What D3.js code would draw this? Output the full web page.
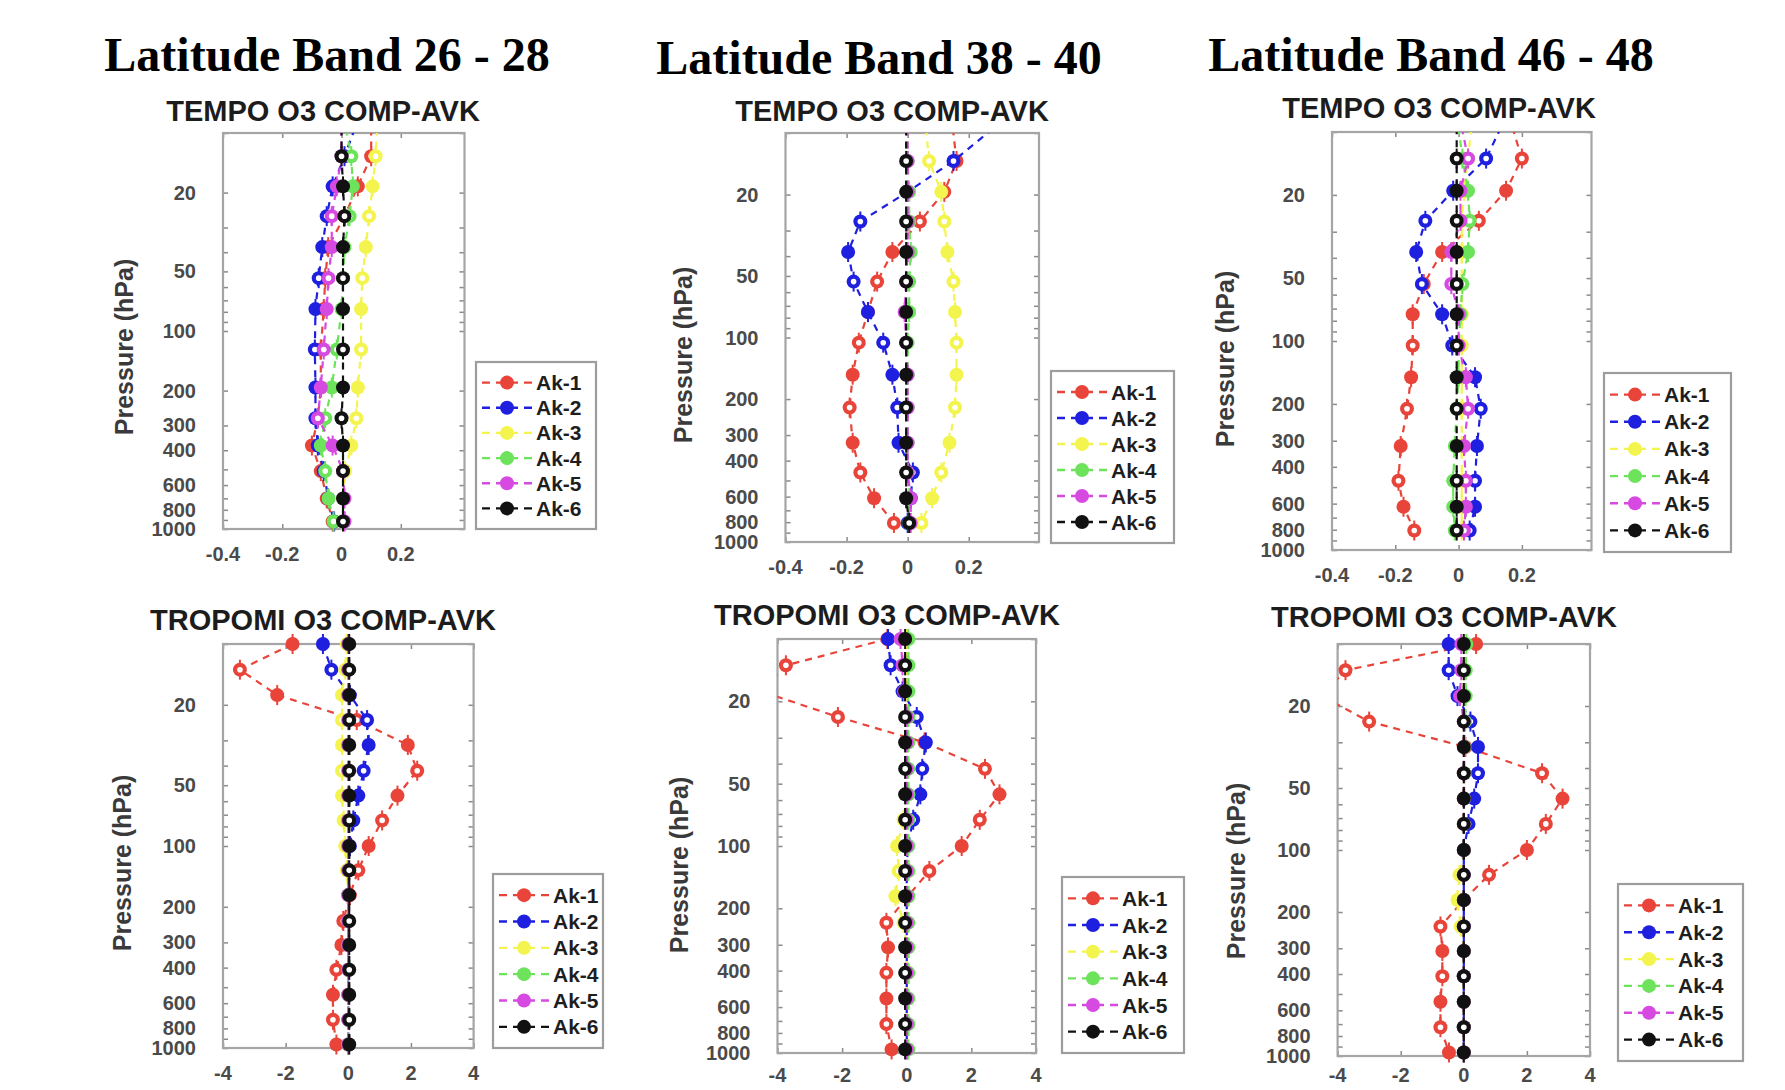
<!DOCTYPE html>
<html>
<head>
<meta charset="utf-8">
<script src="https://cdn.jsdelivr.net/npm/d3@7"></script>
<style>
  body { margin: 0; background: #fff; }
  svg { display: block; }
</style>
</head>
<body>
<svg id="chart"></svg>
<script>
// ---- data ----
var bandTitles = ["Latitude Band 26 - 28", "Latitude Band 38 - 40", "Latitude Band 46 - 48"]
var tempoTitle = "TEMPO O3 COMP-AVK"
var tropomiTitle = "TROPOMI O3 COMP-AVK"
var seriesNames = ["Ak-1", "Ak-2", "Ak-3", "Ak-4", "Ak-5", "Ak-6"]
var pressureTicks = [20, 50, 100, 200, 300, 400, 600, 800, 1000]
var tempoTicksX = [-0.4, -0.2, 0, 0.2]
var tropomiTicksX = [-4, -2, 0, 2, 4]

// pressure levels (hPa)
var tempoP26 = [9.5, 13.1, 18.6, 26.3, 37.7, 54.1, 77.5, 124, 193, 276, 379, 510, 701, 916]
var tempoP38 = [9.5, 13.7, 19.4, 27.1, 38.2, 53.3, 75.1, 106, 152, 220, 327, 457, 611, 807]
var tempoP46 = [9.5, 13.4, 19.1, 26.6, 37.5, 53.4, 74.5, 105, 149, 211, 318, 466, 621, 807]
var tropomiP = [10, 13.4, 17.9, 23.8, 31.6, 42.4, 56.3, 74.7, 100, 132, 175, 235, 309, 410, 545, 725, 961]

// averaging kernel rows, Ak-1 .. Ak-6
var tempo26 = [
  [0.10, 0.10, 0.055, 0.01, -0.045, -0.055, -0.06, -0.07, -0.07, -0.08, -0.10, -0.07, -0.05, -0.03],
  [0.045, 0.01, -0.03, -0.05, -0.065, -0.077, -0.088, -0.09, -0.088, -0.088, -0.08, -0.06, -0.045, -0.025],
  [0.12, 0.115, 0.105, 0.093, 0.082, 0.07, 0.066, 0.066, 0.055, 0.05, 0.033, 0.012, 0.006, 0.003],
  [0.015, 0.033, 0.038, 0.027, 0.01, 0.005, 0.0, -0.016, -0.033, -0.055, -0.07, -0.055, -0.044, -0.027],
  [0.0, 0.0, -0.016, -0.033, -0.033, -0.044, -0.05, -0.06, -0.07, -0.08, -0.03, 0.005, 0.01, 0.01],
  [0.0, 0.0, 0.005, 0.01, 0.005, 0.005, 0.005, 0.005, 0.005, 0.0, 0.005, 0.005, 0.005, 0.005]
]
var tempo38 = [
  [0.148, 0.16, 0.12, 0.04, -0.05, -0.10, -0.13, -0.16, -0.18, -0.19, -0.18, -0.155, -0.11, -0.045],
  [0.28, 0.15, 0.0, -0.155, -0.195, -0.177, -0.13, -0.08, -0.05, -0.034, -0.03, 0.017, 0.01, 0.0],
  [0.06, 0.07, 0.11, 0.12, 0.13, 0.15, 0.155, 0.16, 0.16, 0.155, 0.137, 0.11, 0.08, 0.045],
  [0.0, 0.0, 0.005, 0.005, 0.01, 0.005, 0.005, 0.0, 0.0, 0.0, 0.0, 0.0, 0.005, 0.005],
  [0.0, 0.0, 0.0, 0.0, 0.0, -0.005, -0.01, -0.005, 0.0, 0.0, 0.0, 0.0, 0.01, 0.01],
  [-0.005, -0.005, -0.005, -0.005, -0.005, -0.005, -0.005, -0.005, -0.005, -0.005, -0.005, -0.005, -0.005, 0.005]
]
var tempo46 = [
  [0.17, 0.2, 0.15, 0.064, -0.052, -0.11, -0.145, -0.145, -0.15, -0.163, -0.183, -0.19, -0.174, -0.14],
  [0.134, 0.087, -0.017, -0.105, -0.134, -0.116, -0.052, -0.02, 0.052, 0.07, 0.058, 0.052, 0.052, 0.035],
  [0.04, 0.03, 0.017, 0.01, 0.01, 0.01, 0.01, 0.01, 0.01, 0.01, 0.01, 0.01, 0.01, 0.01],
  [0.0, 0.012, 0.03, 0.035, 0.03, 0.012, 0.006, 0.0, 0.0, -0.006, -0.012, -0.017, -0.017, -0.012],
  [0.01, 0.03, 0.006, 0.006, -0.023, -0.023, 0.0, 0.0, 0.023, 0.03, 0.017, 0.023, 0.023, 0.017],
  [-0.006, -0.006, -0.006, -0.006, -0.006, -0.006, -0.006, -0.006, -0.006, -0.006, -0.006, -0.006, -0.006, -0.006]
]
var tropomi26 = [
  [-1.78, -3.46, -2.27, 0.27, 1.9, 2.2, 1.57, 1.08, 0.65, 0.32, 0.05, -0.16, -0.22, -0.38, -0.49, -0.49, -0.38],
  [-0.81, -0.54, 0.05, 0.6, 0.65, 0.49, 0.32, 0.16, 0.05, 0.0, 0.0, 0.0, 0.0, 0.0, 0.0, 0.0, 0.0],
  [-0.05, -0.1, -0.2, -0.2, -0.2, -0.2, -0.2, -0.15, -0.1, -0.05, 0.0, 0.0, 0.0, 0.0, 0.0, 0.0, 0.0],
  [0.0, 0.0, 0.0, 0.0, 0.0, 0.0, 0.0, 0.0, 0.0, 0.0, 0.0, 0.0, 0.0, 0.0, 0.0, 0.0, 0.0],
  [0.0, 0.0, 0.0, 0.0, 0.0, 0.0, 0.0, 0.0, 0.0, 0.0, 0.0, 0.0, 0.0, 0.0, 0.0, 0.0, 0.0],
  [0.03, 0.03, 0.03, 0.03, 0.03, 0.03, 0.03, 0.03, 0.03, 0.03, 0.03, 0.03, 0.03, 0.03, 0.03, 0.03, 0.03]
]
var tropomi38 = [
  [-0.6, -3.74, -4.5, -2.13, 0.55, 2.42, 2.87, 2.26, 1.7, 0.7, 0.03, -0.63, -0.58, -0.63, -0.63, -0.63, -0.47],
  [-0.58, -0.5, -0.13, 0.31, 0.59, 0.48, 0.42, 0.2, 0.03, 0.0, 0.0, 0.0, 0.0, 0.0, 0.0, 0.0, 0.0],
  [0.0, 0.0, 0.0, 0.0, 0.0, 0.0, 0.0, -0.1, -0.3, -0.25, -0.35, -0.1, 0.0, 0.0, 0.0, 0.0, 0.0],
  [0.05, 0.05, 0.05, 0.05, 0.05, 0.05, 0.05, 0.05, 0.05, 0.05, 0.05, 0.05, 0.05, 0.05, 0.05, 0.05, 0.05],
  [-0.19, -0.13, -0.08, 0.0, 0.0, 0.0, 0.0, 0.0, 0.0, 0.0, 0.0, 0.0, 0.0, 0.0, 0.0, 0.0, 0.0],
  [-0.05, -0.05, -0.05, -0.05, -0.05, -0.05, -0.05, -0.05, -0.05, -0.05, -0.05, -0.05, -0.05, -0.05, -0.05, -0.05, -0.05]
]
var tropomi46 = [
  [0.39, -3.75, -4.5, -3.0, 0.05, 2.48, 3.13, 2.6, 2.0, 0.8, 0.0, -0.74, -0.68, -0.68, -0.74, -0.74, -0.47],
  [-0.48, -0.48, -0.2, 0.21, 0.45, 0.45, 0.33, 0.15, 0.0, 0.0, 0.0, 0.0, 0.0, 0.0, 0.0, 0.0, 0.0],
  [0.0, 0.0, 0.0, 0.0, 0.0, 0.0, 0.0, 0.0, 0.0, -0.14, -0.2, -0.1, 0.0, 0.0, 0.0, 0.0, 0.0],
  [0.08, 0.06, 0.06, 0.04, 0.02, 0.02, 0.01, 0.0, 0.0, 0.0, 0.0, 0.0, 0.0, 0.0, 0.0, 0.0, 0.0],
  [-0.08, -0.08, -0.12, 0.0, 0.0, 0.0, 0.0, 0.0, 0.0, 0.0, 0.0, 0.0, 0.0, 0.0, 0.0, 0.0, 0.0],
  [0.0, 0.0, 0.0, 0.0, 0.0, 0.0, 0.0, 0.0, 0.0, 0.0, 0.0, 0.0, 0.0, 0.0, 0.0, 0.0, 0.0]
]

var colors = ["#e8443a", "#1f1fe0", "#f4f44e", "#6de35c", "#d64ae2", "#111111"]

var svg = d3.select("#chart")
  .attr("width", 1785)
  .attr("height", 1090)

var sansFont = "'Liberation Sans', Arial, Helvetica, sans-serif"

// big column titles
var titleX = [327, 879, 1431]
var titleY = [71, 74, 71]
bandTitles.forEach(function(t, i){
  svg.append("text")
    .attr("x", titleX[i])
    .attr("y", titleY[i])
    .attr("text-anchor", "middle")
    .attr("font-family", "'Liberation Serif', 'Times New Roman', serif")
    .attr("font-weight", "bold")
    .attr("font-size", 48)
    .attr("fill", "#000")
    .text(t)
})

var panels = [
  {x: 223, y: 133, w: 241.5, h: 396, dom: [-0.4, 0.415], ticks: tempoTicksX, p: tempoP26, rows: tempo26, title: tempoTitle, tx: 323, ty: 121, lx: 124, ly: 347, leg: [476, 362, 120, 167]},
  {x: 785.5, y: 133, w: 253.5, h: 409, dom: [-0.4, 0.43], ticks: tempoTicksX, p: tempoP38, rows: tempo38, title: tempoTitle, tx: 892, ty: 121, lx: 683, ly: 355, leg: [1051, 371, 123, 172]},
  {x: 1332, y: 132, w: 259.5, h: 418, dom: [-0.4, 0.42], ticks: tempoTicksX, p: tempoP46, rows: tempo46, title: tempoTitle, tx: 1439, ty: 118, lx: 1225, ly: 359, leg: [1604, 373, 127, 179]},
  {x: 223, y: 644, w: 250.6, h: 404, dom: [-4, 4], ticks: tropomiTicksX, p: tropomiP, rows: tropomi26, title: tropomiTitle, tx: 323, ty: 630, lx: 122, ly: 863, leg: [493, 874, 110, 174]},
  {x: 777.5, y: 639, w: 258.5, h: 414, dom: [-4, 4], ticks: tropomiTicksX, p: tropomiP, rows: tropomi38, title: tropomiTitle, tx: 887, ty: 625, lx: 679, ly: 865, leg: [1062, 877, 122, 176]},
  {x: 1337.6, y: 644, w: 252.4, h: 412, dom: [-4, 4], ticks: tropomiTicksX, p: tropomiP, rows: tropomi46, title: tropomiTitle, tx: 1444, ty: 627, lx: 1236, ly: 871, leg: [1618, 884, 125, 177]}
]

var minorP = []
d3.range(10, 100, 10).forEach(function(v){ minorP.push(v) })
d3.range(100, 1001, 100).forEach(function(v){ minorP.push(v) })

var drawPanel = function(cfg, k){
  var xScale = d3.scaleLinear().domain(cfg.dom).range([0, cfg.w])
  var yScale = d3.scaleLog().domain([10, 1000]).range([0, cfg.h])

  var g = svg.append("g").attr("transform", "translate(" + cfg.x + "," + cfg.y + ")")

  // subtitle
  svg.append("text")
    .attr("x", cfg.tx).attr("y", cfg.ty)
    .attr("text-anchor", "middle")
    .attr("font-family", sansFont)
    .attr("font-weight", "bold")
    .attr("font-size", 29)
    .attr("fill", "#1c1c1c")
    .text(cfg.title)

  // y label
  svg.append("text")
    .attr("transform", "translate(" + cfg.lx + "," + cfg.ly + ") rotate(-90)")
    .attr("text-anchor", "middle")
    .attr("dominant-baseline", "central")
    .attr("font-family", sansFont)
    .attr("font-weight", "bold")
    .attr("font-size", 25)
    .attr("fill", "#3a3a3a")
    .text("Pressure (hPa)")

  // axes: inner ticks on all sides, labels left and bottom
  var yLeft = d3.axisLeft(yScale).tickValues(minorP).tickSize(-5).tickFormat("")
  var yRight = d3.axisRight(yScale).tickValues(minorP).tickSize(-5).tickFormat("")
  var xBottom = d3.axisBottom(xScale).tickValues(cfg.ticks).tickSize(-5).tickFormat("")
  var xTop = d3.axisTop(xScale).tickValues(cfg.ticks).tickSize(-5).tickFormat("")

  g.append("g").call(yLeft)
  g.append("g").attr("transform", "translate(" + cfg.w + ",0)").call(yRight)
  g.append("g").attr("transform", "translate(0," + cfg.h + ")").call(xBottom)
  g.append("g").call(xTop)
  g.selectAll(".domain").remove()
  g.selectAll(".tick line").attr("stroke", "#8a8a8a").attr("stroke-width", 1.5)

  g.append("rect")
    .attr("width", cfg.w).attr("height", cfg.h)
    .attr("fill", "none")
    .attr("stroke", "#a5a5a5")
    .attr("stroke-width", 2.2)

  // tick labels
  g.selectAll(".ylab")
    .data(pressureTicks)
    .enter()
    .append("text")
    .attr("x", -27)
    .attr("y", function(d){ return yScale(d) })
    .attr("text-anchor", "end")
    .attr("dominant-baseline", "central")
    .attr("font-family", sansFont)
    .attr("font-weight", "bold")
    .attr("font-size", 20)
    .attr("fill", "#4a4a4a")
    .text(function(d){ return d })

  var xLabY = Math.min(cfg.h + 32, 1082 - cfg.y)
  g.selectAll(".xlab")
    .data(cfg.ticks)
    .enter()
    .append("text")
    .attr("x", function(d){ return xScale(d) })
    .attr("y", xLabY)
    .attr("text-anchor", "middle")
    .attr("font-family", sansFont)
    .attr("font-weight", "bold")
    .attr("font-size", 20)
    .attr("fill", "#4a4a4a")
    .text(function(d){ return d })

  // clip for the lines
  var clipId = "clip" + k
  g.append("clipPath").attr("id", clipId)
    .append("rect").attr("width", cfg.w).attr("height", cfg.h)

  var line = d3.line()
    .x(function(d){ return xScale(d.v) })
    .y(function(d){ return yScale(d.p) })

  cfg.rows.forEach(function(row, s){
    var pts = row.map(function(v, i){ return {v: v, p: cfg.p[i], i: i} })

    g.append("path")
      .datum(pts)
      .attr("clip-path", "url(#" + clipId + ")")
      .attr("d", line)
      .attr("fill", "none")
      .attr("stroke", colors[s])
      .attr("stroke-width", 2.2)
      .attr("stroke-dasharray", "7,6")

    var inside = pts.filter(function(d){
      return d.p >= 10 && d.v >= cfg.dom[0] && d.v <= cfg.dom[1]
    })

    var mk = g.selectAll(".mk" + s)
      .data(inside)
      .enter()
      .append("g")
      .attr("transform", function(d){ return "translate(" + xScale(d.v) + "," + yScale(d.p) + ")" })

    mk.append("line")
      .attr("y1", -10).attr("y2", 10)
      .attr("stroke", colors[s])
      .attr("stroke-width", 2)
    mk.append("circle")
      .attr("r", 7)
      .attr("fill", colors[s])
    mk.filter(function(d){ return d.i % 2 === 1 })
      .append("circle")
      .attr("r", 2.8)
      .attr("fill", "#fff")
  })

  // legend
  var lx = cfg.leg[0], ly = cfg.leg[1], lw = cfg.leg[2], lh = cfg.leg[3]
  var lg = svg.append("g").attr("transform", "translate(" + lx + "," + ly + ")")
  lg.append("rect")
    .attr("width", lw).attr("height", lh)
    .attr("fill", "#fff")
    .attr("stroke", "#9d9d9d")
    .attr("stroke-width", 2.2)

  var step = (lh - 16) / 6
  var entries = lg.selectAll(".entry")
    .data(seriesNames)
    .enter()
    .append("g")
    .attr("transform", function(d, i){ return "translate(0," + (14 + step * (i + 0.5) - 6) + ")" })

  entries.append("line")
    .attr("x1", 6).attr("x2", 56)
    .attr("stroke", function(d, i){ return colors[i] })
    .attr("stroke-width", 2.4)
    .attr("stroke-dasharray", "8,6")
  entries.append("circle")
    .attr("cx", 31)
    .attr("r", 7)
    .attr("fill", function(d, i){ return colors[i] })
  entries.append("text")
    .attr("x", 60)
    .attr("dominant-baseline", "central")
    .attr("font-family", sansFont)
    .attr("font-weight", "bold")
    .attr("font-size", 21)
    .attr("fill", "#1e1e1e")
    .text(function(d){ return d })
}

panels.forEach(function(cfg, k){
  drawPanel(cfg, k)
})
</script>
</body>
</html>
